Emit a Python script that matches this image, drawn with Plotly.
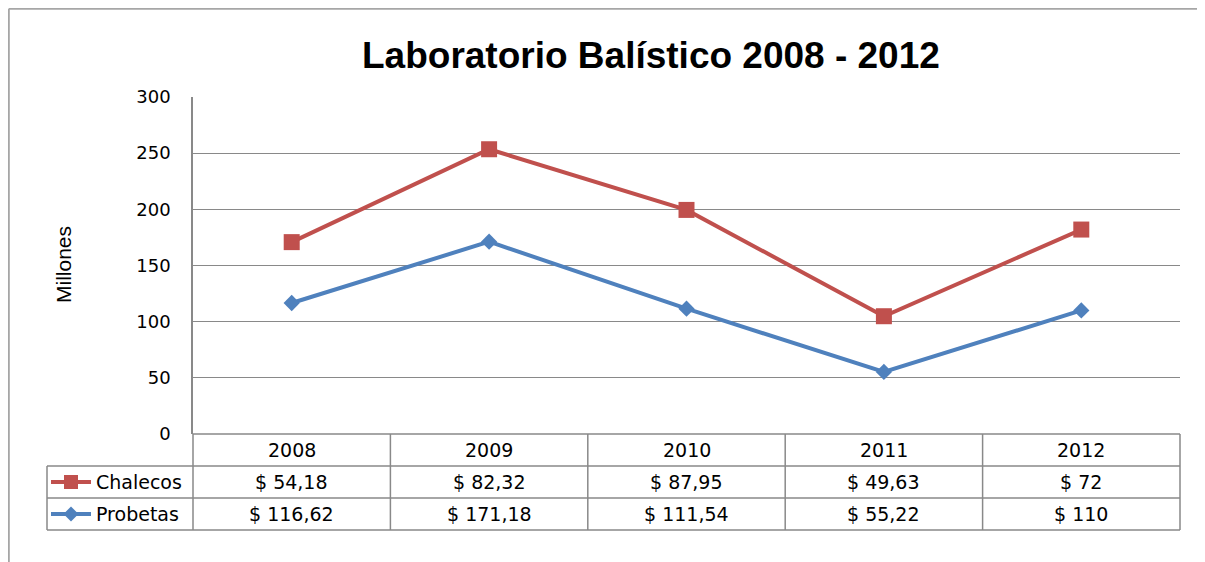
import plotly.graph_objects as go

years = ["2008", "2009", "2010", "2011", "2012"]
chalecos = [54.18, 82.32, 87.95, 49.63, 72]
probetas = [116.62, 171.18, 111.54, 55.22, 110]
y_ticks = [0, 50, 100, 150, 200, 250, 300]

# stacked line chart: Chalecos is plotted on top of Probetas
chalecos_stacked = [p + c for p, c in zip(probetas, chalecos)]

RED = "#C0504D"
BLUE = "#4F81BD"
GRID = "#898989"
OFF = 8  # default page body margin
PW, PH = 1205, 562
W, H = PW - OFF, PH - OFF
# plot area in page pixels
L, R, T, B = 193, 1180, 97, 434


def px(x):
    return (x - L) / (R - L)


def py(y):
    return (B - y) / (B - T)


def fmt(v):
    return "$ " + f"{v:g}".replace(".", ",")


fig = go.Figure()
fig.add_trace(go.Scatter(x=years, y=probetas, mode="lines+markers", name="Probetas",
                         line=dict(color=BLUE, width=4),
                         marker=dict(symbol="diamond", size=12.5, color=BLUE)))
fig.add_trace(go.Scatter(x=years, y=chalecos_stacked, mode="lines+markers", name="Chalecos",
                         line=dict(color=RED, width=4),
                         marker=dict(symbol="square", size=16, color=RED)))

shapes = []
annotations = []

# outer chart frame (left and top edges visible)
fx0 = OFF + 0.8
fy0 = OFF + 0.8
shapes.append(dict(type="line", xref="paper", yref="paper", x0=px(fx0), x1=px(PW + 10), y0=py(fy0), y1=py(fy0),
                   line=dict(color="#A6A6A6", width=2)))
shapes.append(dict(type="line", xref="paper", yref="paper", x0=px(fx0), x1=px(fx0), y0=py(fy0), y1=py(PH + 10),
                   line=dict(color="#A6A6A6", width=2)))

# data table
row_h = 32
col_w = (R - L) / len(years)
tab_left = 47
y_rows = [B, B + row_h, B + 2 * row_h, B + 3 * row_h]
lc = dict(color=GRID, width=1.5)
shapes.append(dict(type="line", xref="paper", yref="paper", x0=px(L), x1=px(R), y0=py(B), y1=py(B), line=lc))
for yy in y_rows[1:]:
    shapes.append(dict(type="line", xref="paper", yref="paper", x0=px(tab_left), x1=px(R), y0=py(yy), y1=py(yy), line=lc))
for i in range(len(years) + 1):
    xx = L + i * col_w
    shapes.append(dict(type="line", xref="paper", yref="paper", x0=px(xx), x1=px(xx), y0=py(B), y1=py(y_rows[3]), line=lc))
shapes.append(dict(type="line", xref="paper", yref="paper", x0=px(tab_left), x1=px(tab_left), y0=py(y_rows[1]), y1=py(y_rows[3]), line=lc))

tfont = dict(family="DejaVu Sans, sans-serif", size=19, color="#000000")
for i, yr in enumerate(years):
    cx = L + (i + 0.5) * col_w
    annotations.append(dict(x=px(cx), y=py(B + row_h / 2), xref="paper", yref="paper", text=yr,
                            showarrow=False, font=tfont, xanchor="center", yanchor="middle"))
    annotations.append(dict(x=px(cx), y=py(B + 1.5 * row_h), xref="paper", yref="paper", text=fmt(chalecos[i]),
                            showarrow=False, font=tfont, xanchor="center", yanchor="middle"))
    annotations.append(dict(x=px(cx), y=py(B + 2.5 * row_h), xref="paper", yref="paper", text=fmt(probetas[i]),
                            showarrow=False, font=tfont, xanchor="center", yanchor="middle"))

# legend keys in table
for r, (name, col, sym) in enumerate([("Chalecos", RED, "square"), ("Probetas", BLUE, "diamond")]):
    cy = B + (1.5 + r) * row_h
    shapes.append(dict(type="line", xref="paper", yref="paper", x0=px(51), x1=px(91), y0=py(cy), y1=py(cy),
                       line=dict(color=col, width=4)))
    if sym == "square":
        shapes.append(dict(type="rect", xref="paper", yref="paper", x0=px(64), x1=px(78), y0=py(cy - 7), y1=py(cy + 7),
                           fillcolor=col, line=dict(width=0)))
    else:
        d = 7.5
        path = (f"M {px(71 - d)} {py(cy)} L {px(71)} {py(cy - d)} L {px(71 + d)} {py(cy)} "
                f"L {px(71)} {py(cy + d)} Z")
        shapes.append(dict(type="path", xref="paper", yref="paper", path=path, fillcolor=col, line=dict(width=0)))
    annotations.append(dict(x=px(94), y=py(cy), xref="paper", yref="paper", text=name, showarrow=False,
                            font=tfont, xanchor="left", yanchor="middle"))

# title
annotations.append(dict(x=px(651), y=py(56), xref="paper", yref="paper", text="<b>Laboratorio Balístico 2008 - 2012</b>",
                        showarrow=False, font=dict(family="Liberation Sans, Arial, sans-serif", size=37, color="#000000"),
                        xanchor="center", yanchor="middle"))
# y-axis title
annotations.append(dict(x=px(63), y=py(265), xref="paper", yref="paper", text="Millones", textangle=-90,
                        showarrow=False, font=dict(family="Liberation Sans, Arial, sans-serif", size=21, color="#000000"),
                        xanchor="center", yanchor="middle"))

fig.update_layout(
    width=W, height=H,
    margin=dict(l=L - OFF, r=PW - R, t=T - OFF, b=PH - B, pad=0),
    paper_bgcolor="white", plot_bgcolor="white",
    showlegend=False,
    shapes=shapes, annotations=annotations,
    xaxis=dict(type="category", range=[-0.5, len(years) - 0.5], showticklabels=False, showgrid=False,
               zeroline=False, showline=False, ticks=""),
    yaxis=dict(range=[0, 300], tickvals=y_ticks, showgrid=True, gridcolor=GRID, gridwidth=1.3,
               zeroline=False, showline=True, linecolor=GRID, linewidth=1.5, ticks="",
               ticklabelstandoff=17,
               tickfont=dict(family="DejaVu Sans, sans-serif", size=18, color="#000000")),
)

fig.write_html("out.html")
